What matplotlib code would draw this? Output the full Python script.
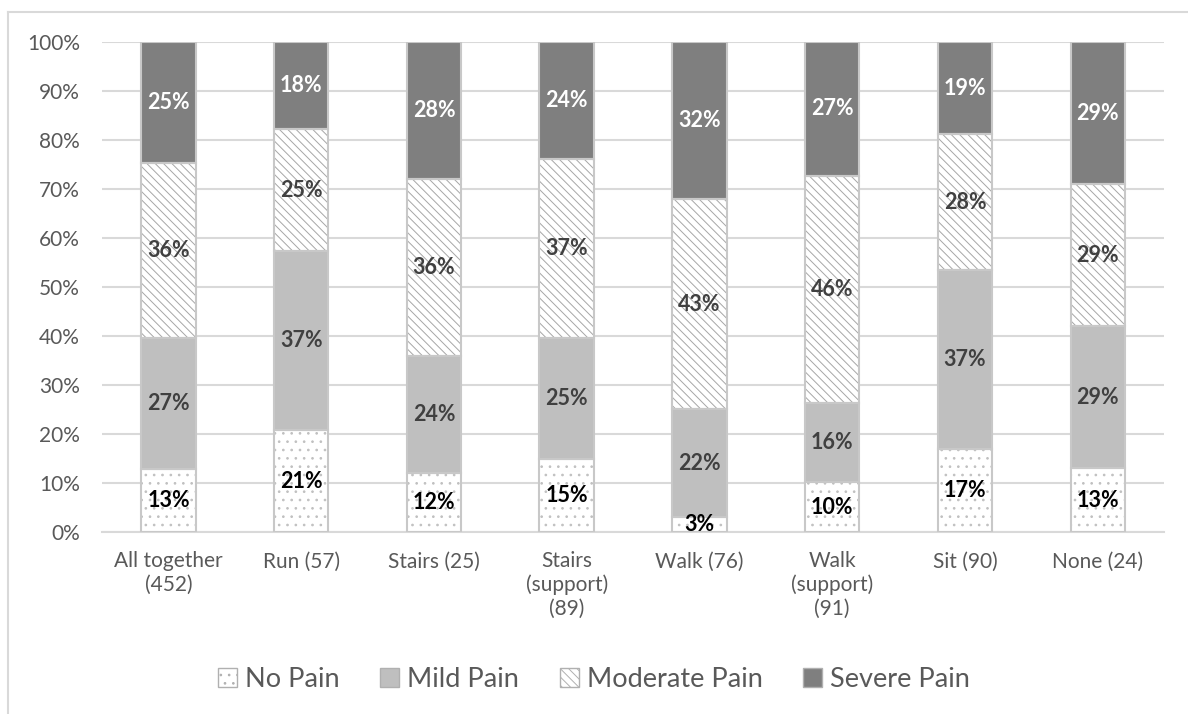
import matplotlib.pyplot as plt
from matplotlib.lines import Line2D
import numpy as np

plt.rcParams['font.family'] = ['Lato', 'DejaVu Sans']
plt.rcParams['hatch.linewidth'] = 0.7

# pain level shares per activity group (percent)
groups = ['All together\n(452)', 'Run (57)', 'Stairs (25)', 'Stairs\n(support)\n(89)',
          'Walk (76)', 'Walk\n(support)\n(91)', 'Sit (90)', 'None (24)']
no_pain = [13, 21, 12, 15, 3, 10, 17, 13]
mild_pain = [27, 37, 24, 25, 22, 16, 37, 29]
moderate_pain = [36, 25, 36, 37, 43, 46, 28, 29]
severe_pain = [25, 18, 28, 24, 32, 27, 19, 29]

levels = ['No Pain', 'Mild Pain', 'Moderate Pain', 'Severe Pain']
series = [no_pain, mild_pain, moderate_pain, severe_pain]
faces = ['white', '#BFBFBF', 'white', '#7F7F7F']
hatches = ['..', None, '\\\\\\\\', None]
hatch_colors = ['#C0C0C0', '#A6A6A6', '#A6A6A6', '#A6A6A6']
text_colors = ['black', '#404040', '#404040', 'white']

data = np.array(series, dtype=float)
shares = data / data.sum(axis=0) * 100  # 100% stacked

fig = plt.figure(figsize=(11.88, 7.14), dpi=100)
ax = fig.add_axes([0.0859, 0.255, 0.894, 0.686])

x = np.arange(len(groups))
width = 0.41
bottom = np.zeros(len(groups))
handles = []
for i, name in enumerate(levels):
    ax.bar(x, shares[i], width, bottom=bottom, color=faces[i],
           hatch=hatches[i], edgecolor=hatch_colors[i], linewidth=0, zorder=2)
    ax.bar(x, shares[i], width, bottom=bottom, fill=False,
           edgecolor='#C8C8C8', linewidth=1.5, zorder=3)
    for xi, b, h, v in zip(x, bottom, shares[i], series[i]):
        ax.text(xi, b + h / 2, f'{v}%', ha='center', va='center',
                fontsize=15.5, fontweight='bold', color=text_colors[i], zorder=4)
    handles.append(plt.Rectangle((0, 0), 1, 1, facecolor=faces[i], hatch=hatches[i],
                                 edgecolor='#B0B0B0', linewidth=1))
    bottom += shares[i]

ax.set_xlim(-0.5, len(groups) - 0.5)
ax.set_ylim(0, 100)
ax.set_yticks(np.arange(0, 101, 10))
ax.set_yticklabels([f'{t}%' for t in range(0, 101, 10)])
ax.set_xticks(x)
ax.set_xticklabels(groups, linespacing=1.2)
ax.tick_params(axis='both', length=0, labelsize=15, colors='#595959')
ax.tick_params(axis='x', pad=14)
ax.tick_params(axis='y', pad=16)
ax.grid(axis='y', color='#D9D9D9', linewidth=1.5, zorder=0)
for s in ['top', 'right', 'left']:
    ax.spines[s].set_visible(False)
ax.spines['bottom'].set_color('#D9D9D9')
ax.spines['bottom'].set_linewidth(1.5)

leg = fig.legend(handles, levels, loc='center', bbox_to_anchor=(0.5, 0.048), ncol=4,
                 frameon=False, fontsize=19.5, handlelength=0.7, handleheight=0.7,
                 handletextpad=0.3, columnspacing=1.5)
for t in leg.get_texts():
    t.set_color('#595959')

# chart area outline
fig.add_artist(Line2D([8 / 1188, 8 / 1188], [0, 1 - 12 / 714], transform=fig.transFigure,
                      color='#D9D9D9', linewidth=1.5))
fig.add_artist(Line2D([8 / 1188, 1], [1 - 12 / 714, 1 - 12 / 714], transform=fig.transFigure,
                      color='#D9D9D9', linewidth=1.5))

fig.savefig('out.png', dpi=100, facecolor='white')
